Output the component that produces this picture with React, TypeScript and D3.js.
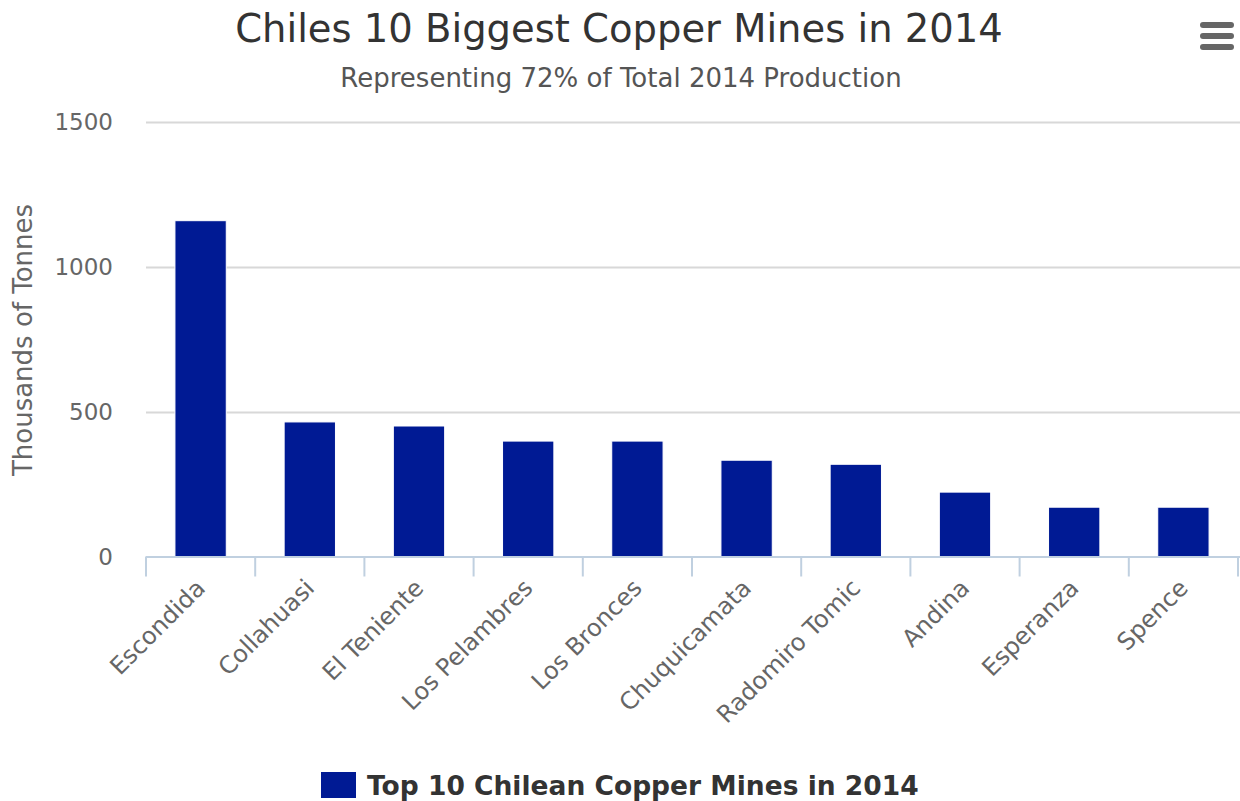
import React from "react";
import * as d3 from "d3";

const categories = [
  "Escondida",
  "Collahuasi",
  "El Teniente",
  "Los Pelambres",
  "Los Bronces",
  "Chuquicamata",
  "Radomiro Tomic",
  "Andina",
  "Esperanza",
  "Spence",
];
const values = [1158, 464, 450, 398, 398, 332, 318, 222, 170, 170];
const yTicks = [0, 500, 1000, 1500];
const seriesName = "Top 10 Chilean Copper Mines in 2014";
const title = "Chiles 10 Biggest Copper Mines in 2014";
const subtitle = "Representing 72% of Total 2014 Production";
const yTitle = "Thousands of Tonnes";

const W = 1240;
const H = 801;
const FONT = "'DejaVu Sans', Verdana, sans-serif";
const BAR = "#001a94";

export default function App() {
  const left = 146;
  const right = 1238;
  const top = 121.5;
  const bottom = 556.5;

  const x = d3.scaleBand<string>().domain(categories).range([left, right]).paddingInner(0.53).paddingOuter(0.265);
  const xb = d3.scaleBand<string>().domain(categories).range([left, right]);
  const y = d3.scaleLinear().domain([0, 1500]).range([bottom, top]);

  return (
    <svg
      width={W}
      height={H}
      style={{ position: "absolute", left: 0, top: 0, display: "block" }}
      fontFamily={FONT}
    >
      <rect width={W} height={H} fill="#fff" />
      <text x={619} y={42} textAnchor="middle" fontSize={38.5} fill="#333">
        {title}
      </text>
      <text x={621} y={87} textAnchor="middle" fontSize={26} fill="#555">
        {subtitle}
      </text>

      {/* menu icon */}
      {[25, 36, 47].map((yy) => (
        <line key={yy} x1={1203} x2={1231} y1={yy} y2={yy} stroke="#666" strokeWidth={6} strokeLinecap="round" />
      ))}

      {/* grid */}
      {yTicks.slice(1).map((t) => (
        <line key={t} x1={left} x2={right + 2} y1={Math.round(y(t)) + 0.5} y2={Math.round(y(t)) + 0.5} stroke="#d8d8d8" strokeWidth={2} />
      ))}
      {yTicks.map((t) => (
        <text key={t} x={113} y={y(t) + 8} textAnchor="end" fontSize={23} fill="#666">
          {t}
        </text>
      ))}
      <text
        transform={`translate(32,${(top + bottom) / 2 + 1}) rotate(-90)`}
        textAnchor="middle"
        fontSize={26}
        fill="#666"
      >
        {yTitle}
      </text>

      {/* bars */}
      {categories.map((c, i) => (
        <rect
          key={c}
          x={x(c)!}
          y={y(values[i])}
          width={x.bandwidth()}
          height={bottom - y(values[i])}
          fill={BAR}
          stroke="#fff"
          strokeWidth={1}
        />
      ))}

      {/* x axis */}
      <line x1={left} x2={right + 2} y1={bottom + 0.5} y2={bottom + 0.5} stroke="#c0d0e0" strokeWidth={2} />
      {categories.map((c) => (
        <line key={c} x1={xb(c)!} x2={xb(c)!} y1={bottom} y2={bottom + 20} stroke="#c0d0e0" strokeWidth={2} />
      ))}
      <line x1={right} x2={right} y1={bottom} y2={bottom + 20} stroke="#c0d0e0" strokeWidth={2} />
      {categories.map((c) => {
        const cx = xb(c)! + xb.bandwidth() / 2 + 6;
        return (
          <text
            key={c}
            transform={`translate(${cx},${bottom + 33}) rotate(-45)`}
            textAnchor="end"
            fontSize={24}
            fill="#666"
          >
            {c}
          </text>
        );
      })}

      {/* legend */}
      <rect x={321} y={772} width={35} height={26} fill={BAR} />
      <text x={367} y={795} fontSize={26.5} fontWeight="bold" fill="#333">
        {seriesName}
      </text>
    </svg>
  );
}
